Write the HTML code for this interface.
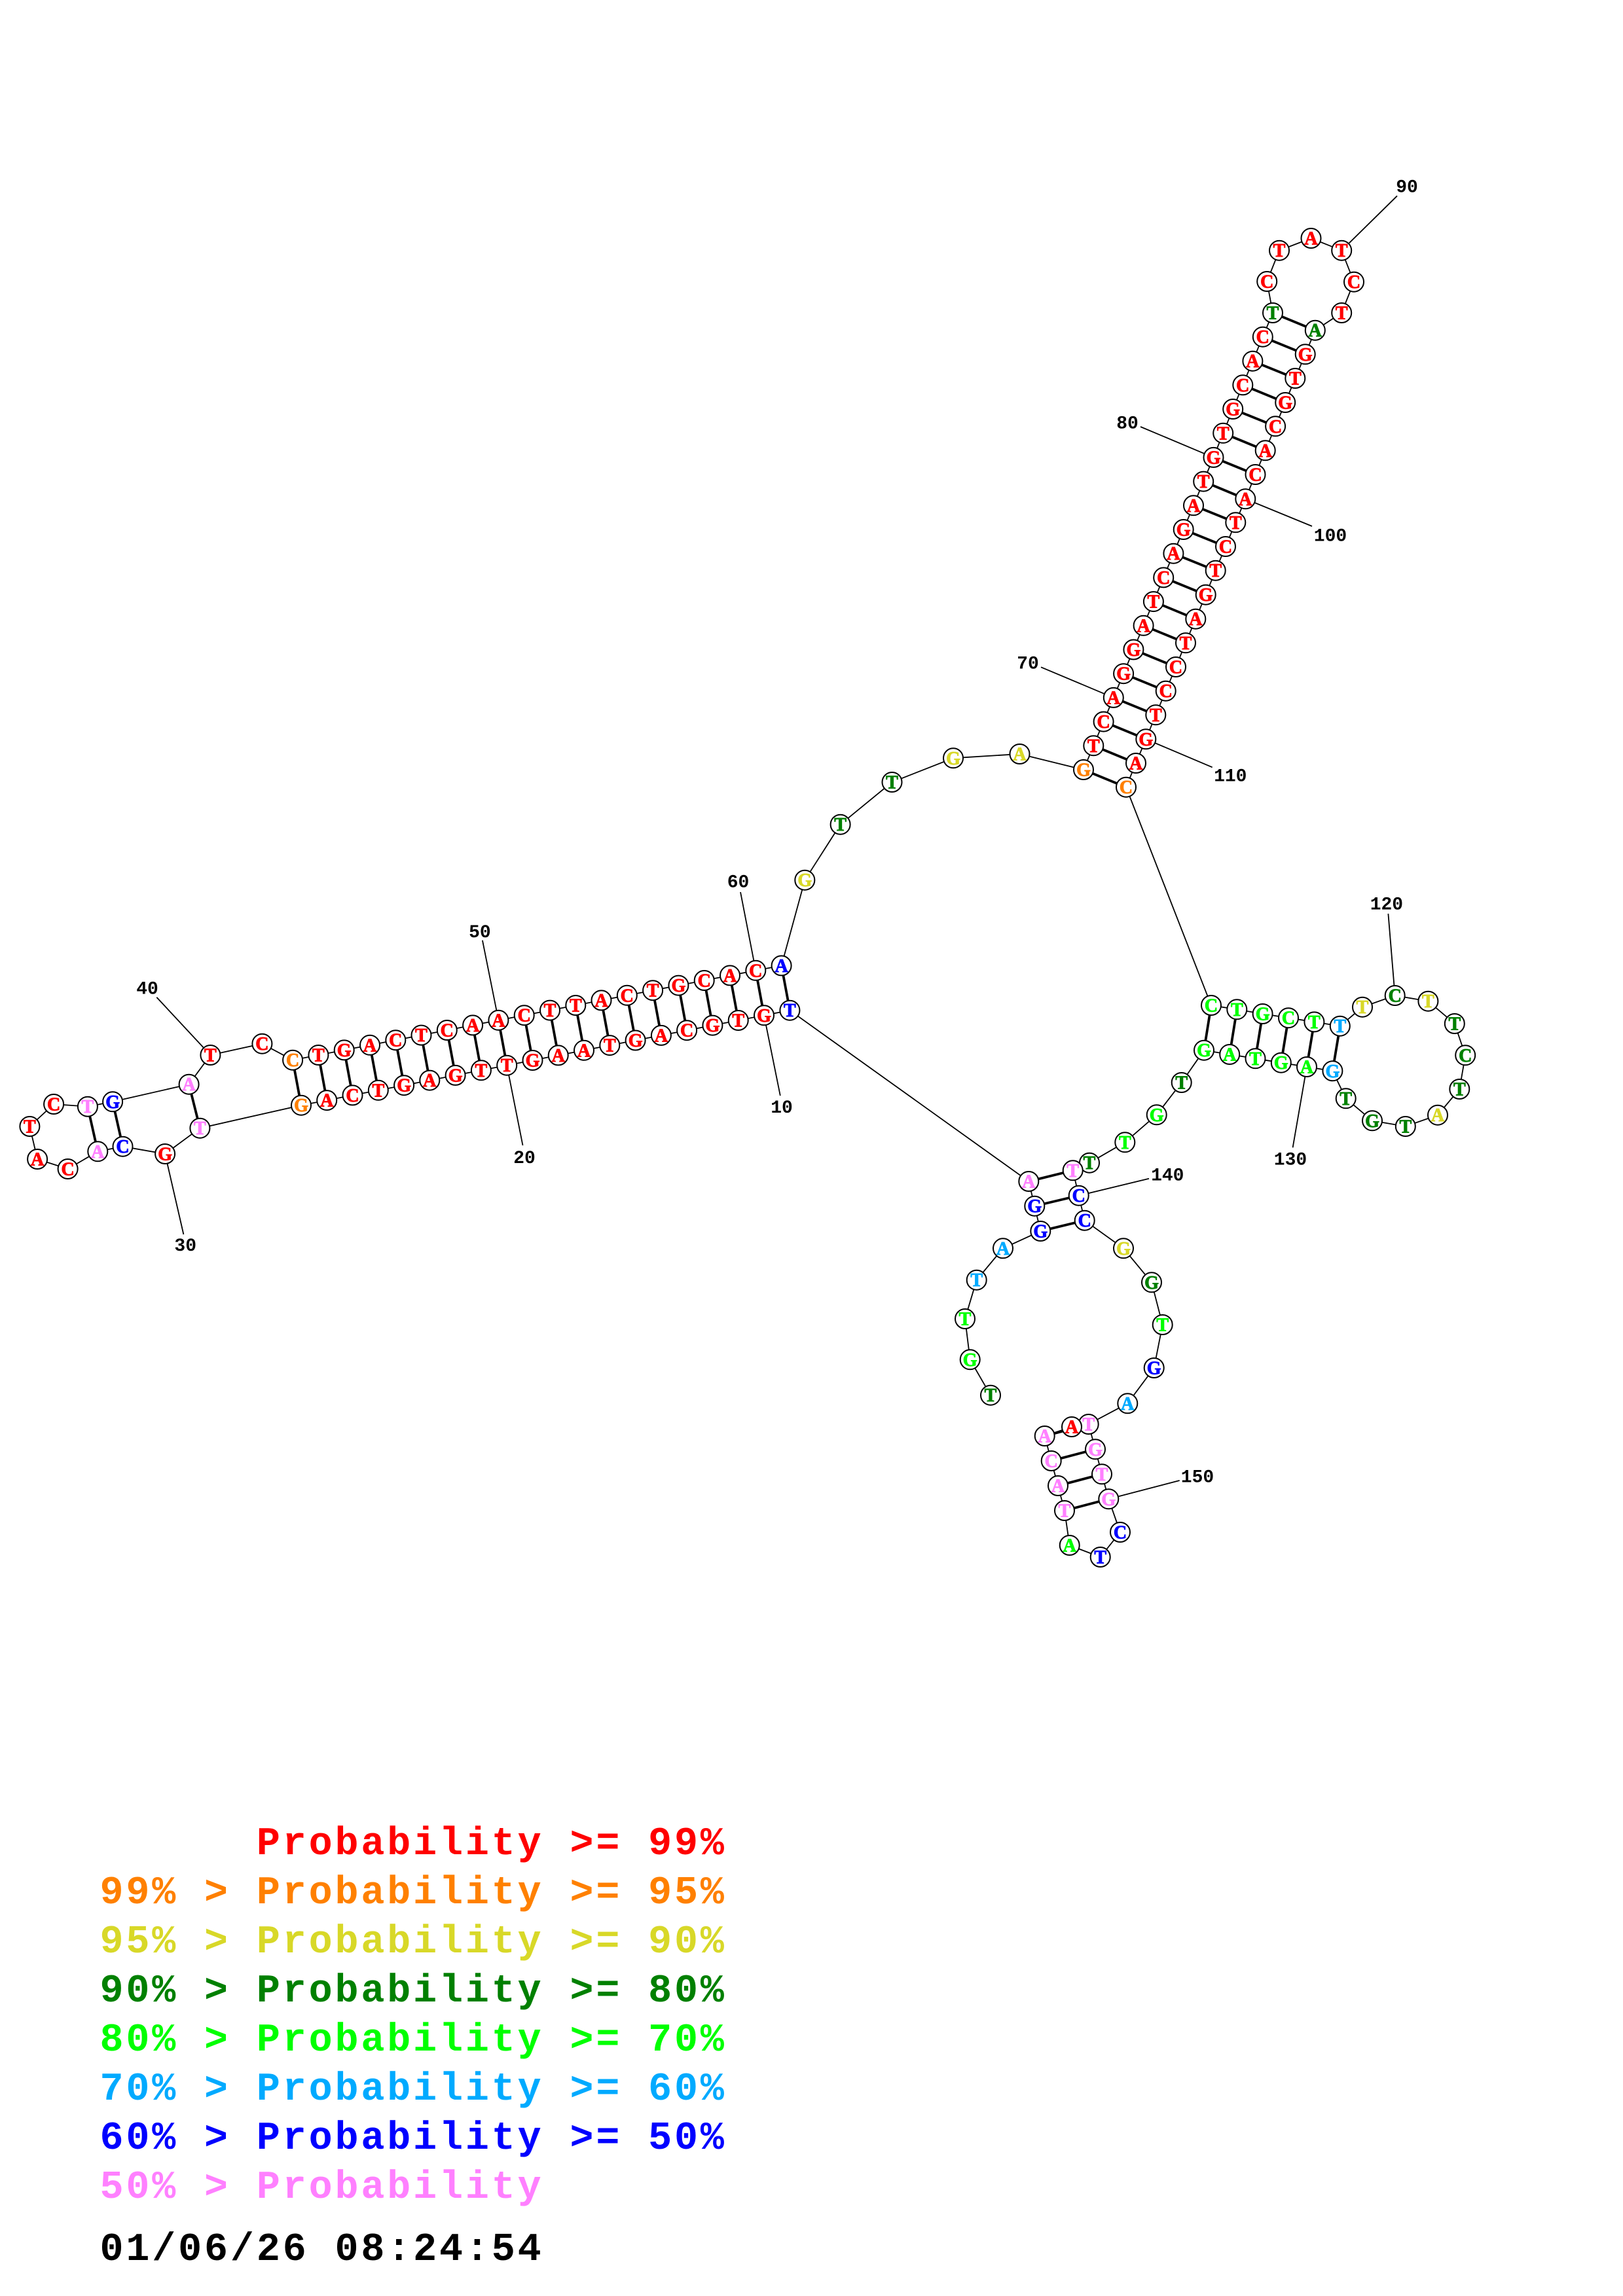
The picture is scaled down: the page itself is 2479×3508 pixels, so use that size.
<!DOCTYPE html>
<html>
<head>
<meta charset="utf-8">
<title>Probability structure</title>
<style>
html,body{margin:0;padding:0;background:#fff;}
svg{display:block;}
circle{fill:#fff;stroke:#000;stroke-width:2;r:15px;}
.n{font-family:"Liberation Serif",serif;font-weight:bold;font-size:28px;text-anchor:middle;transform:translateY(9.5px);stroke-width:.9px;}
.t{font-family:"Liberation Mono",monospace;font-weight:bold;font-size:28px;text-anchor:middle;fill:#000;transform:translateY(9.5px);}
.g{font-family:"Liberation Mono",monospace;font-weight:bold;font-size:60px;letter-spacing:3.88px;white-space:pre;}
.r{fill:#ff0000;stroke:#ff0000}.o{fill:#ff8000;stroke:#ff8000}.y{fill:#d8d828;stroke:#d8d828}.d{fill:#008000;stroke:#008000}.l{fill:#00ff00;stroke:#00ff00}.c{fill:#00aaff;stroke:#00aaff}.b{fill:#0000ff;stroke:#0000ff}.p{fill:#ff80ff;stroke:#ff80ff}.k{fill:#000;stroke:#000}
</style>
</head>
<body>
<svg xmlns="http://www.w3.org/2000/svg" width="2479" height="3508" viewBox="0 0 2479 3508">
<rect width="2479" height="3508" fill="#fff"/>
<polyline fill="none" stroke="#000" stroke-width="1.8" points="1513,2131.7 1481.7,2077.3 1474,2015 1491.7,1955.7 1532,1907.3 1589.3,1881 1580.3,1842.7 1571.3,1805 1206.4,1543.7 1167,1551.3 1127.7,1559 1088.4,1566.6 1049.1,1574.2 1009.9,1581.9 970.6,1589.5 931.3,1597.1 892,1604.8 852.7,1612.4 813.5,1620 774.2,1627.7 734.9,1635.3 695.6,1642.9 656.3,1650.6 617.1,1658.2 577.8,1665.8 538.5,1673.4 499.2,1681.1 460,1688.7 305.4,1723.7 252.1,1763 187.5,1751.7 149.3,1759.3 103.6,1786 57.1,1771 45.4,1721 82.1,1687 133.9,1690.7 172.1,1683.3 288.6,1656.7 321.4,1612 400.4,1594.7 447.1,1619.7 486.4,1612 525.7,1604.4 565,1596.8 604.3,1589.2 643.5,1581.6 682.8,1574 722.1,1566.4 761.4,1558.8 800.7,1551.2 840,1543.6 879.3,1536 918.5,1528.4 957.8,1520.8 997.1,1513.2 1036.4,1505.6 1075.7,1498 1115,1490.4 1154.3,1482.8 1193.6,1475.4 1229.3,1344.7 1283.6,1259.7 1362.5,1195 1456,1158.3 1557.5,1152 1655,1176 1670.3,1139.3 1685.6,1102.6 1700.8,1065.9 1716.1,1029.2 1731.4,992.5 1746.6,955.8 1761.9,919.1 1777.2,882.4 1792.4,845.7 1807.7,809 1823,772.3 1838.2,735.6 1853.5,698.9 1868.2,661.8 1883.2,625 1898.3,588.3 1913.4,551.7 1928.8,514.7 1944,478 1935.2,430 1954,382.7 2002.5,364 2049.2,382.7 2068,430.7 2049.2,478 2008.8,504.7 1993.7,541.3 1978.3,578 1963.2,615 1948.1,651.3 1932.7,688.3 1917.5,725 1902.3,762.3 1887.3,798.3 1872,835 1856.7,871.7 1841.7,908.7 1826.3,945.7 1811,982.3 1796,1019 1780.7,1055.7 1765.3,1092.3 1750.3,1129.3 1735,1166 1720,1202.7 1850,1536 1889.3,1542.3 1928.6,1549 1968,1555.2 2007.4,1561.4 2046.8,1567.7 2081,1538.7 2130.7,1521 2181.4,1529.7 2221.8,1564 2238.2,1612.3 2229.3,1664 2196,1703.7 2146.8,1721 2096,1712.3 2055.7,1678.3 2035.4,1636.3 1996,1630 1956.8,1623.7 1917.5,1617.3 1878.2,1611 1839,1604.7 1804.7,1654 1766.7,1703.3 1718.3,1745.3 1664,1776.7 1638.7,1788.3 1647.7,1826.7 1656.7,1864.7 1716,1907.3 1759,1959.3 1775.7,2024 1762.7,2090 1722.3,2144.3 1662.7,2176 1673,2214.3 1683,2252.3 1693.3,2290.3 1711,2341 1680.7,2379 1633.7,2361 1626,2308 1616,2270 1605.7,2232 1595.7,2194 1637,2180"/>
<path fill="none" stroke="#000" stroke-width="1.8" d="M2049.2 382.7L2134 299.3M1853.5 698.9L1742 652M1902.3 762.3L2004 804M1700.8 1065.9L1590 1019.3M1750.3 1129.3L1851.7 1172.3M1154.3 1482.8L1131 1363M1167 1551.3L1191.8 1674M774.2 1627.7L798.5 1750M761.4 1558.8L736.9 1436.7M252.1 1763L280.4 1886M321.4 1612L239.3 1523.7M2130.7 1521L2120.4 1396M1996 1630L1974.6 1753.3M1647.7 1826.7L1755 1800.7M1693.3 2290.3L1801.7 2262"/>
<path fill="none" stroke="#000" stroke-width="3.8" d="M1206.4 1543.7L1193.6 1475.4M1167 1551.3L1154.3 1482.8M1127.7 1559L1115 1490.4M1088.4 1566.6L1075.7 1498M1049.1 1574.2L1036.4 1505.6M1009.9 1581.9L997.1 1513.2M970.6 1589.5L957.8 1520.8M931.3 1597.1L918.5 1528.4M892 1604.8L879.3 1536M852.7 1612.4L840 1543.6M813.5 1620L800.7 1551.2M774.2 1627.7L761.4 1558.8M734.9 1635.3L722.1 1566.4M695.6 1642.9L682.8 1574M656.3 1650.6L643.5 1581.6M617.1 1658.2L604.3 1589.2M577.8 1665.8L565 1596.8M538.5 1673.4L525.7 1604.4M499.2 1681.1L486.4 1612M460 1688.7L447.1 1619.7M305.4 1723.7L288.6 1656.7M187.5 1751.7L172.1 1683.3M149.3 1759.3L133.9 1690.7M1655 1176L1720 1202.7M1670.3 1139.3L1735 1166M1685.6 1102.6L1750.3 1129.3M1700.8 1065.9L1765.3 1092.3M1716.1 1029.2L1780.7 1055.7M1731.4 992.5L1796 1019M1746.6 955.8L1811 982.3M1761.9 919.1L1826.3 945.7M1777.2 882.4L1841.7 908.7M1792.4 845.7L1856.7 871.7M1807.7 809L1872 835M1823 772.3L1887.3 798.3M1838.2 735.6L1902.3 762.3M1853.5 698.9L1917.5 725M1868.2 661.8L1932.7 688.3M1883.2 625L1948.1 651.3M1898.3 588.3L1963.2 615M1913.4 551.7L1978.3 578M1928.8 514.7L1993.7 541.3M1944 478L2008.8 504.7M1850 1536L1839 1604.7M1889.3 1542.3L1878.2 1611M1928.6 1549L1917.5 1617.3M1968 1555.2L1956.8 1623.7M2007.4 1561.4L1996 1630M2046.8 1567.7L2035.4 1636.3M1638.7 1788.3L1571.3 1805M1647.7 1826.7L1580.3 1842.7M1656.7 1864.7L1589.3 1881M1662.7 2176L1595.7 2194M1673 2214.3L1605.7 2232M1683 2252.3L1616 2270M1693.3 2290.3L1626 2308"/>
<circle cx="1513" cy="2131.7"/><text x="1513" y="2131.7" class="n d">T</text>
<circle cx="1481.7" cy="2077.3"/><text x="1481.7" y="2077.3" class="n l">G</text>
<circle cx="1474" cy="2015"/><text x="1474" y="2015" class="n l">T</text>
<circle cx="1491.7" cy="1955.7"/><text x="1491.7" y="1955.7" class="n c">T</text>
<circle cx="1532" cy="1907.3"/><text x="1532" y="1907.3" class="n c">A</text>
<circle cx="1589.3" cy="1881"/><text x="1589.3" y="1881" class="n b">G</text>
<circle cx="1580.3" cy="1842.7"/><text x="1580.3" y="1842.7" class="n b">G</text>
<circle cx="1571.3" cy="1805"/><text x="1571.3" y="1805" class="n p">A</text>
<circle cx="1206.4" cy="1543.7"/><text x="1206.4" y="1543.7" class="n b">T</text>
<circle cx="1167" cy="1551.3"/><text x="1167" y="1551.3" class="n r">G</text>
<circle cx="1127.7" cy="1559"/><text x="1127.7" y="1559" class="n r">T</text>
<circle cx="1088.4" cy="1566.6"/><text x="1088.4" y="1566.6" class="n r">G</text>
<circle cx="1049.1" cy="1574.2"/><text x="1049.1" y="1574.2" class="n r">C</text>
<circle cx="1009.9" cy="1581.9"/><text x="1009.9" y="1581.9" class="n r">A</text>
<circle cx="970.6" cy="1589.5"/><text x="970.6" y="1589.5" class="n r">G</text>
<circle cx="931.3" cy="1597.1"/><text x="931.3" y="1597.1" class="n r">T</text>
<circle cx="892" cy="1604.8"/><text x="892" y="1604.8" class="n r">A</text>
<circle cx="852.7" cy="1612.4"/><text x="852.7" y="1612.4" class="n r">A</text>
<circle cx="813.5" cy="1620"/><text x="813.5" y="1620" class="n r">G</text>
<circle cx="774.2" cy="1627.7"/><text x="774.2" y="1627.7" class="n r">T</text>
<circle cx="734.9" cy="1635.3"/><text x="734.9" y="1635.3" class="n r">T</text>
<circle cx="695.6" cy="1642.9"/><text x="695.6" y="1642.9" class="n r">G</text>
<circle cx="656.3" cy="1650.6"/><text x="656.3" y="1650.6" class="n r">A</text>
<circle cx="617.1" cy="1658.2"/><text x="617.1" y="1658.2" class="n r">G</text>
<circle cx="577.8" cy="1665.8"/><text x="577.8" y="1665.8" class="n r">T</text>
<circle cx="538.5" cy="1673.4"/><text x="538.5" y="1673.4" class="n r">C</text>
<circle cx="499.2" cy="1681.1"/><text x="499.2" y="1681.1" class="n r">A</text>
<circle cx="460" cy="1688.7"/><text x="460" y="1688.7" class="n o">G</text>
<circle cx="305.4" cy="1723.7"/><text x="305.4" y="1723.7" class="n p">T</text>
<circle cx="252.1" cy="1763"/><text x="252.1" y="1763" class="n r">G</text>
<circle cx="187.5" cy="1751.7"/><text x="187.5" y="1751.7" class="n b">C</text>
<circle cx="149.3" cy="1759.3"/><text x="149.3" y="1759.3" class="n p">A</text>
<circle cx="103.6" cy="1786"/><text x="103.6" y="1786" class="n r">C</text>
<circle cx="57.1" cy="1771"/><text x="57.1" y="1771" class="n r">A</text>
<circle cx="45.4" cy="1721"/><text x="45.4" y="1721" class="n r">T</text>
<circle cx="82.1" cy="1687"/><text x="82.1" y="1687" class="n r">C</text>
<circle cx="133.9" cy="1690.7"/><text x="133.9" y="1690.7" class="n p">T</text>
<circle cx="172.1" cy="1683.3"/><text x="172.1" y="1683.3" class="n b">G</text>
<circle cx="288.6" cy="1656.7"/><text x="288.6" y="1656.7" class="n p">A</text>
<circle cx="321.4" cy="1612"/><text x="321.4" y="1612" class="n r">T</text>
<circle cx="400.4" cy="1594.7"/><text x="400.4" y="1594.7" class="n r">C</text>
<circle cx="447.1" cy="1619.7"/><text x="447.1" y="1619.7" class="n o">C</text>
<circle cx="486.4" cy="1612"/><text x="486.4" y="1612" class="n r">T</text>
<circle cx="525.7" cy="1604.4"/><text x="525.7" y="1604.4" class="n r">G</text>
<circle cx="565" cy="1596.8"/><text x="565" y="1596.8" class="n r">A</text>
<circle cx="604.3" cy="1589.2"/><text x="604.3" y="1589.2" class="n r">C</text>
<circle cx="643.5" cy="1581.6"/><text x="643.5" y="1581.6" class="n r">T</text>
<circle cx="682.8" cy="1574"/><text x="682.8" y="1574" class="n r">C</text>
<circle cx="722.1" cy="1566.4"/><text x="722.1" y="1566.4" class="n r">A</text>
<circle cx="761.4" cy="1558.8"/><text x="761.4" y="1558.8" class="n r">A</text>
<circle cx="800.7" cy="1551.2"/><text x="800.7" y="1551.2" class="n r">C</text>
<circle cx="840" cy="1543.6"/><text x="840" y="1543.6" class="n r">T</text>
<circle cx="879.3" cy="1536"/><text x="879.3" y="1536" class="n r">T</text>
<circle cx="918.5" cy="1528.4"/><text x="918.5" y="1528.4" class="n r">A</text>
<circle cx="957.8" cy="1520.8"/><text x="957.8" y="1520.8" class="n r">C</text>
<circle cx="997.1" cy="1513.2"/><text x="997.1" y="1513.2" class="n r">T</text>
<circle cx="1036.4" cy="1505.6"/><text x="1036.4" y="1505.6" class="n r">G</text>
<circle cx="1075.7" cy="1498"/><text x="1075.7" y="1498" class="n r">C</text>
<circle cx="1115" cy="1490.4"/><text x="1115" y="1490.4" class="n r">A</text>
<circle cx="1154.3" cy="1482.8"/><text x="1154.3" y="1482.8" class="n r">C</text>
<circle cx="1193.6" cy="1475.4"/><text x="1193.6" y="1475.4" class="n b">A</text>
<circle cx="1229.3" cy="1344.7"/><text x="1229.3" y="1344.7" class="n y">G</text>
<circle cx="1283.6" cy="1259.7"/><text x="1283.6" y="1259.7" class="n d">T</text>
<circle cx="1362.5" cy="1195"/><text x="1362.5" y="1195" class="n d">T</text>
<circle cx="1456" cy="1158.3"/><text x="1456" y="1158.3" class="n y">G</text>
<circle cx="1557.5" cy="1152"/><text x="1557.5" y="1152" class="n y">A</text>
<circle cx="1655" cy="1176"/><text x="1655" y="1176" class="n o">G</text>
<circle cx="1670.3" cy="1139.3"/><text x="1670.3" y="1139.3" class="n r">T</text>
<circle cx="1685.6" cy="1102.6"/><text x="1685.6" y="1102.6" class="n r">C</text>
<circle cx="1700.8" cy="1065.9"/><text x="1700.8" y="1065.9" class="n r">A</text>
<circle cx="1716.1" cy="1029.2"/><text x="1716.1" y="1029.2" class="n r">G</text>
<circle cx="1731.4" cy="992.5"/><text x="1731.4" y="992.5" class="n r">G</text>
<circle cx="1746.6" cy="955.8"/><text x="1746.6" y="955.8" class="n r">A</text>
<circle cx="1761.9" cy="919.1"/><text x="1761.9" y="919.1" class="n r">T</text>
<circle cx="1777.2" cy="882.4"/><text x="1777.2" y="882.4" class="n r">C</text>
<circle cx="1792.4" cy="845.7"/><text x="1792.4" y="845.7" class="n r">A</text>
<circle cx="1807.7" cy="809"/><text x="1807.7" y="809" class="n r">G</text>
<circle cx="1823" cy="772.3"/><text x="1823" y="772.3" class="n r">A</text>
<circle cx="1838.2" cy="735.6"/><text x="1838.2" y="735.6" class="n r">T</text>
<circle cx="1853.5" cy="698.9"/><text x="1853.5" y="698.9" class="n r">G</text>
<circle cx="1868.2" cy="661.8"/><text x="1868.2" y="661.8" class="n r">T</text>
<circle cx="1883.2" cy="625"/><text x="1883.2" y="625" class="n r">G</text>
<circle cx="1898.3" cy="588.3"/><text x="1898.3" y="588.3" class="n r">C</text>
<circle cx="1913.4" cy="551.7"/><text x="1913.4" y="551.7" class="n r">A</text>
<circle cx="1928.8" cy="514.7"/><text x="1928.8" y="514.7" class="n r">C</text>
<circle cx="1944" cy="478"/><text x="1944" y="478" class="n d">T</text>
<circle cx="1935.2" cy="430"/><text x="1935.2" y="430" class="n r">C</text>
<circle cx="1954" cy="382.7"/><text x="1954" y="382.7" class="n r">T</text>
<circle cx="2002.5" cy="364"/><text x="2002.5" y="364" class="n r">A</text>
<circle cx="2049.2" cy="382.7"/><text x="2049.2" y="382.7" class="n r">T</text>
<circle cx="2068" cy="430.7"/><text x="2068" y="430.7" class="n r">C</text>
<circle cx="2049.2" cy="478"/><text x="2049.2" y="478" class="n r">T</text>
<circle cx="2008.8" cy="504.7"/><text x="2008.8" y="504.7" class="n d">A</text>
<circle cx="1993.7" cy="541.3"/><text x="1993.7" y="541.3" class="n r">G</text>
<circle cx="1978.3" cy="578"/><text x="1978.3" y="578" class="n r">T</text>
<circle cx="1963.2" cy="615"/><text x="1963.2" y="615" class="n r">G</text>
<circle cx="1948.1" cy="651.3"/><text x="1948.1" y="651.3" class="n r">C</text>
<circle cx="1932.7" cy="688.3"/><text x="1932.7" y="688.3" class="n r">A</text>
<circle cx="1917.5" cy="725"/><text x="1917.5" y="725" class="n r">C</text>
<circle cx="1902.3" cy="762.3"/><text x="1902.3" y="762.3" class="n r">A</text>
<circle cx="1887.3" cy="798.3"/><text x="1887.3" y="798.3" class="n r">T</text>
<circle cx="1872" cy="835"/><text x="1872" y="835" class="n r">C</text>
<circle cx="1856.7" cy="871.7"/><text x="1856.7" y="871.7" class="n r">T</text>
<circle cx="1841.7" cy="908.7"/><text x="1841.7" y="908.7" class="n r">G</text>
<circle cx="1826.3" cy="945.7"/><text x="1826.3" y="945.7" class="n r">A</text>
<circle cx="1811" cy="982.3"/><text x="1811" y="982.3" class="n r">T</text>
<circle cx="1796" cy="1019"/><text x="1796" y="1019" class="n r">C</text>
<circle cx="1780.7" cy="1055.7"/><text x="1780.7" y="1055.7" class="n r">C</text>
<circle cx="1765.3" cy="1092.3"/><text x="1765.3" y="1092.3" class="n r">T</text>
<circle cx="1750.3" cy="1129.3"/><text x="1750.3" y="1129.3" class="n r">G</text>
<circle cx="1735" cy="1166"/><text x="1735" y="1166" class="n r">A</text>
<circle cx="1720" cy="1202.7"/><text x="1720" y="1202.7" class="n o">C</text>
<circle cx="1850" cy="1536"/><text x="1850" y="1536" class="n l">C</text>
<circle cx="1889.3" cy="1542.3"/><text x="1889.3" y="1542.3" class="n l">T</text>
<circle cx="1928.6" cy="1549"/><text x="1928.6" y="1549" class="n l">G</text>
<circle cx="1968" cy="1555.2"/><text x="1968" y="1555.2" class="n l">C</text>
<circle cx="2007.4" cy="1561.4"/><text x="2007.4" y="1561.4" class="n l">T</text>
<circle cx="2046.8" cy="1567.7"/><text x="2046.8" y="1567.7" class="n c">T</text>
<circle cx="2081" cy="1538.7"/><text x="2081" y="1538.7" class="n y">T</text>
<circle cx="2130.7" cy="1521"/><text x="2130.7" y="1521" class="n d">C</text>
<circle cx="2181.4" cy="1529.7"/><text x="2181.4" y="1529.7" class="n y">T</text>
<circle cx="2221.8" cy="1564"/><text x="2221.8" y="1564" class="n d">T</text>
<circle cx="2238.2" cy="1612.3"/><text x="2238.2" y="1612.3" class="n d">C</text>
<circle cx="2229.3" cy="1664"/><text x="2229.3" y="1664" class="n d">T</text>
<circle cx="2196" cy="1703.7"/><text x="2196" y="1703.7" class="n y">A</text>
<circle cx="2146.8" cy="1721"/><text x="2146.8" y="1721" class="n d">T</text>
<circle cx="2096" cy="1712.3"/><text x="2096" y="1712.3" class="n d">G</text>
<circle cx="2055.7" cy="1678.3"/><text x="2055.7" y="1678.3" class="n d">T</text>
<circle cx="2035.4" cy="1636.3"/><text x="2035.4" y="1636.3" class="n c">G</text>
<circle cx="1996" cy="1630"/><text x="1996" y="1630" class="n l">A</text>
<circle cx="1956.8" cy="1623.7"/><text x="1956.8" y="1623.7" class="n l">G</text>
<circle cx="1917.5" cy="1617.3"/><text x="1917.5" y="1617.3" class="n l">T</text>
<circle cx="1878.2" cy="1611"/><text x="1878.2" y="1611" class="n l">A</text>
<circle cx="1839" cy="1604.7"/><text x="1839" y="1604.7" class="n l">G</text>
<circle cx="1804.7" cy="1654"/><text x="1804.7" y="1654" class="n d">T</text>
<circle cx="1766.7" cy="1703.3"/><text x="1766.7" y="1703.3" class="n l">G</text>
<circle cx="1718.3" cy="1745.3"/><text x="1718.3" y="1745.3" class="n l">T</text>
<circle cx="1664" cy="1776.7"/><text x="1664" y="1776.7" class="n d">T</text>
<circle cx="1638.7" cy="1788.3"/><text x="1638.7" y="1788.3" class="n p">T</text>
<circle cx="1647.7" cy="1826.7"/><text x="1647.7" y="1826.7" class="n b">C</text>
<circle cx="1656.7" cy="1864.7"/><text x="1656.7" y="1864.7" class="n b">C</text>
<circle cx="1716" cy="1907.3"/><text x="1716" y="1907.3" class="n y">G</text>
<circle cx="1759" cy="1959.3"/><text x="1759" y="1959.3" class="n d">G</text>
<circle cx="1775.7" cy="2024"/><text x="1775.7" y="2024" class="n l">T</text>
<circle cx="1762.7" cy="2090"/><text x="1762.7" y="2090" class="n b">G</text>
<circle cx="1722.3" cy="2144.3"/><text x="1722.3" y="2144.3" class="n c">A</text>
<circle cx="1662.7" cy="2176"/><text x="1662.7" y="2176" class="n p">T</text>
<circle cx="1673" cy="2214.3"/><text x="1673" y="2214.3" class="n p">G</text>
<circle cx="1683" cy="2252.3"/><text x="1683" y="2252.3" class="n p">T</text>
<circle cx="1693.3" cy="2290.3"/><text x="1693.3" y="2290.3" class="n p">G</text>
<circle cx="1711" cy="2341"/><text x="1711" y="2341" class="n b">C</text>
<circle cx="1680.7" cy="2379"/><text x="1680.7" y="2379" class="n b">T</text>
<circle cx="1633.7" cy="2361"/><text x="1633.7" y="2361" class="n l">A</text>
<circle cx="1626" cy="2308"/><text x="1626" y="2308" class="n p">T</text>
<circle cx="1616" cy="2270"/><text x="1616" y="2270" class="n p">A</text>
<circle cx="1605.7" cy="2232"/><text x="1605.7" y="2232" class="n p">C</text>
<circle cx="1595.7" cy="2194"/><text x="1595.7" y="2194" class="n p">A</text>
<circle cx="1637" cy="2180"/><text x="1637" y="2180" class="n r">A</text>
<text x="1194" y="1690.7" class="t">10</text>
<text x="801" y="1767.3" class="t">20</text>
<text x="283.2" y="1901.7" class="t">30</text>
<text x="225" y="1509" class="t">40</text>
<text x="732.9" y="1422.3" class="t">50</text>
<text x="1127.5" y="1346" class="t">60</text>
<text x="1570" y="1012" class="t">70</text>
<text x="1722" y="645" class="t">80</text>
<text x="2149" y="284" class="t">90</text>
<text x="2032" y="817" class="t">100</text>
<text x="1879.3" y="1184" class="t">110</text>
<text x="2117.9" y="1380" class="t">120</text>
<text x="1971" y="1770" class="t">130</text>
<text x="1783.3" y="1794" class="t">140</text>
<text x="1829" y="2255" class="t">150</text>
<text x="152.5" y="2833" class="g r" style="stroke:none">      Probability &gt;= 99%</text>
<text x="152.5" y="2908" class="g o" style="stroke:none">99% &gt; Probability &gt;= 95%</text>
<text x="152.5" y="2983" class="g y" style="stroke:none">95% &gt; Probability &gt;= 90%</text>
<text x="152.5" y="3058" class="g d" style="stroke:none">90% &gt; Probability &gt;= 80%</text>
<text x="152.5" y="3133" class="g l" style="stroke:none">80% &gt; Probability &gt;= 70%</text>
<text x="152.5" y="3208" class="g c" style="stroke:none">70% &gt; Probability &gt;= 60%</text>
<text x="152.5" y="3283" class="g b" style="stroke:none">60% &gt; Probability &gt;= 50%</text>
<text x="152.5" y="3358" class="g p" style="stroke:none">50% &gt; Probability</text>
<text x="152.5" y="3453" class="g k" style="stroke:none">01/06/26 08:24:54</text>
</svg>
</body>
</html>
